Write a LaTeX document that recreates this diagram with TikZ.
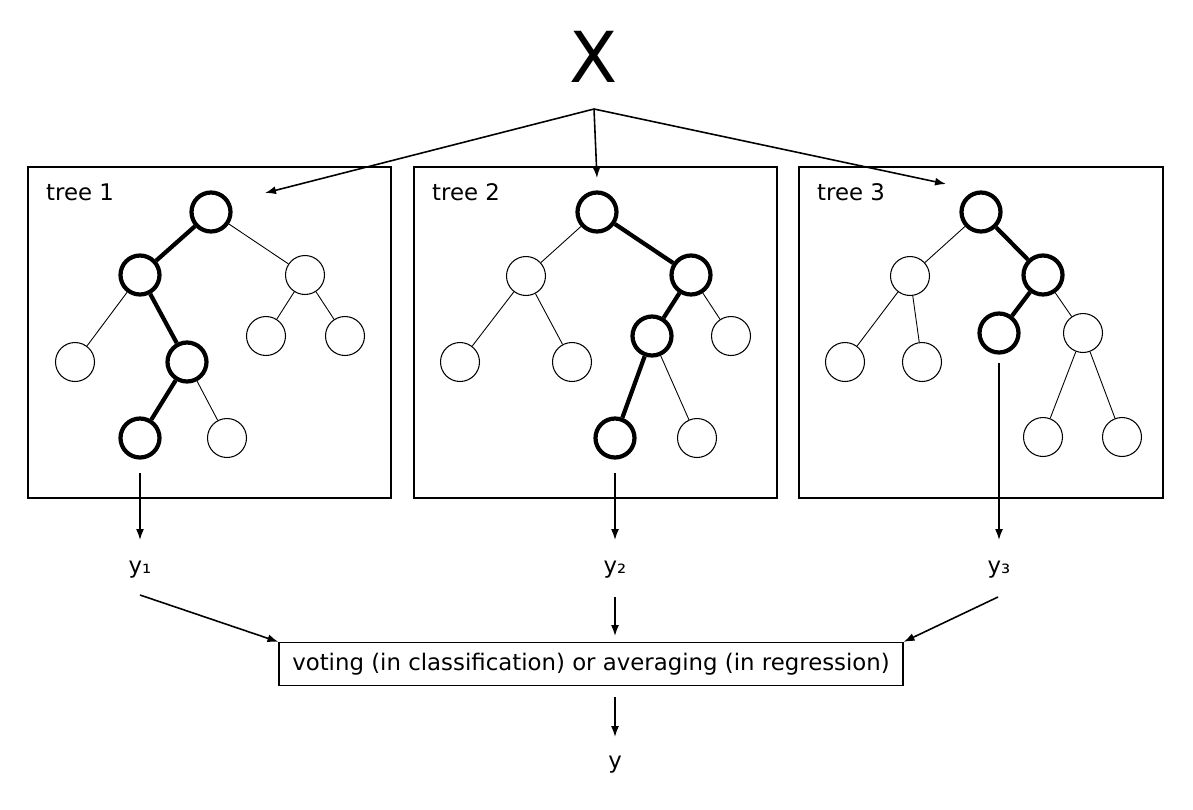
\documentclass[tikz,border=0pt]{standalone}
\usepackage{fontspec}
\setmainfont{DejaVu Sans}
\usetikzlibrary{arrows.meta}
\begin{document}
\begin{tikzpicture}[x=0.02cm,y=-0.02cm,
  font=\fontsize{13}{15}\selectfont,
  treenode/.style={circle,draw,line width=0.6pt,minimum size=0.78cm,inner sep=0pt},
  pathnode/.style={treenode,line width=2.4pt},
  edge/.style={line width=0.5pt},
  pathedge/.style={line width=2.4pt},
  arr/.style={-{Latex[length=2.2mm,width=1.6mm]},line width=0.9pt}]
\useasboundingbox (0,0) rectangle (1193,809);

% input and the three splits
\node[draw=none,line width=0.6pt] (X) at (594,57) {\fontsize{40}{40}\selectfont X};
\coordinate (split) at (594,109);
\coordinate (in1) at (265,193);
\coordinate (in2) at (597,178);
\coordinate (in3) at (946,184);
\draw[arr] (split) -- (in1);
\draw[arr] (split) -- (in2);
\draw[arr] (split) -- (in3);

% tree 1
\draw[line width=1.1pt] (28,167) rectangle (391,498);
\node[anchor=west] (lab1) at (40,192) {tree 1};
\node[pathnode] (a) at (211,212) {};
\node[pathnode] (al) at (140,275) {};
\node[treenode] (ar) at (305,275) {};
\node[treenode] (all) at (75,362) {};
\node[pathnode] (alr) at (187,362) {};
\node[treenode] (arl) at (266,336) {};
\node[treenode] (arr) at (345,336) {};
\node[pathnode] (alrl) at (140,438) {};
\node[treenode] (alrr) at (227,438) {};
\draw[pathedge] (a) -- (al);
\draw[edge] (a) -- (ar);
\draw[edge] (al) -- (all);
\draw[pathedge] (al) -- (alr);
\draw[edge] (ar) -- (arl);
\draw[edge] (ar) -- (arr);
\draw[pathedge] (alr) -- (alrl);
\draw[edge] (alr) -- (alrr);

% tree 2
\draw[line width=1.1pt] (414,167) rectangle (777,498);
\node[anchor=west] (lab2) at (426,192) {tree 2};
\node[pathnode] (b) at (597,212) {};
\node[treenode] (bl) at (526,276) {};
\node[pathnode] (br) at (691,275) {};
\node[treenode] (bll) at (460,362) {};
\node[treenode] (blr) at (572,362) {};
\node[pathnode] (brl) at (652,336) {};
\node[treenode] (brr) at (731,336) {};
\node[pathnode] (brll) at (615,438) {};
\node[treenode] (brlr) at (697,438) {};
\draw[edge] (b) -- (bl);
\draw[pathedge] (b) -- (br);
\draw[edge] (bl) -- (bll);
\draw[edge] (bl) -- (blr);
\draw[pathedge] (br) -- (brl);
\draw[edge] (br) -- (brr);
\draw[pathedge] (brl) -- (brll);
\draw[edge] (brl) -- (brlr);

% tree 3
\draw[line width=1.1pt] (799,167) rectangle (1163,498);
\node[anchor=west] (lab3) at (811,192) {tree 3};
\node[pathnode] (c) at (981,212) {};
\node[treenode] (cl) at (910,276) {};
\node[pathnode] (cr) at (1043,275) {};
\node[treenode] (cll) at (845,362) {};
\node[treenode] (clr) at (922,362) {};
\node[pathnode] (crl) at (999,333) {};
\node[treenode] (crr) at (1083,333) {};
\node[treenode] (crrl) at (1043,437) {};
\node[treenode] (crrr) at (1122,437) {};
\draw[edge] (c) -- (cl);
\draw[pathedge] (c) -- (cr);
\draw[edge] (cl) -- (cll);
\draw[edge] (cl) -- (clr);
\draw[pathedge] (cr) -- (crl);
\draw[edge] (cr) -- (crr);
\draw[edge] (crr) -- (crrl);
\draw[edge] (crr) -- (crrr);

% outputs
\node (y1) at (140,570) {y₁};
\node (y2) at (615,570) {y₂};
\node (y3) at (999,570) {y₃};
\coordinate (out1) at (140,540);
\coordinate (out2) at (615,540);
\coordinate (out3) at (999,540);
\draw[arr] (alrl) ++(0,35) -- (out1);
\draw[arr] (brll) ++(0,35) -- (out2);
\draw[arr] (crl) ++(0,30) -- (out3);

% aggregation
\node[draw,line width=0.7pt,minimum width=12.48cm,minimum height=0.86cm] (vote) at (591,664)
  {voting (in classification) or averaging (in regression)};
\coordinate (from1) at (140,595);
\coordinate (from2) at (615,597);
\coordinate (from3) at (998,597);
\draw[arr] (from1) -- (vote.north west);
\draw[arr] (from2) -- (615,636);
\draw[arr] (from3) -- (vote.north east);
\node (y) at (615,765) {y};
\coordinate (from4) at (615,697);
\draw[arr] (from4) -- (615,737);
\end{tikzpicture}
\end{document}
